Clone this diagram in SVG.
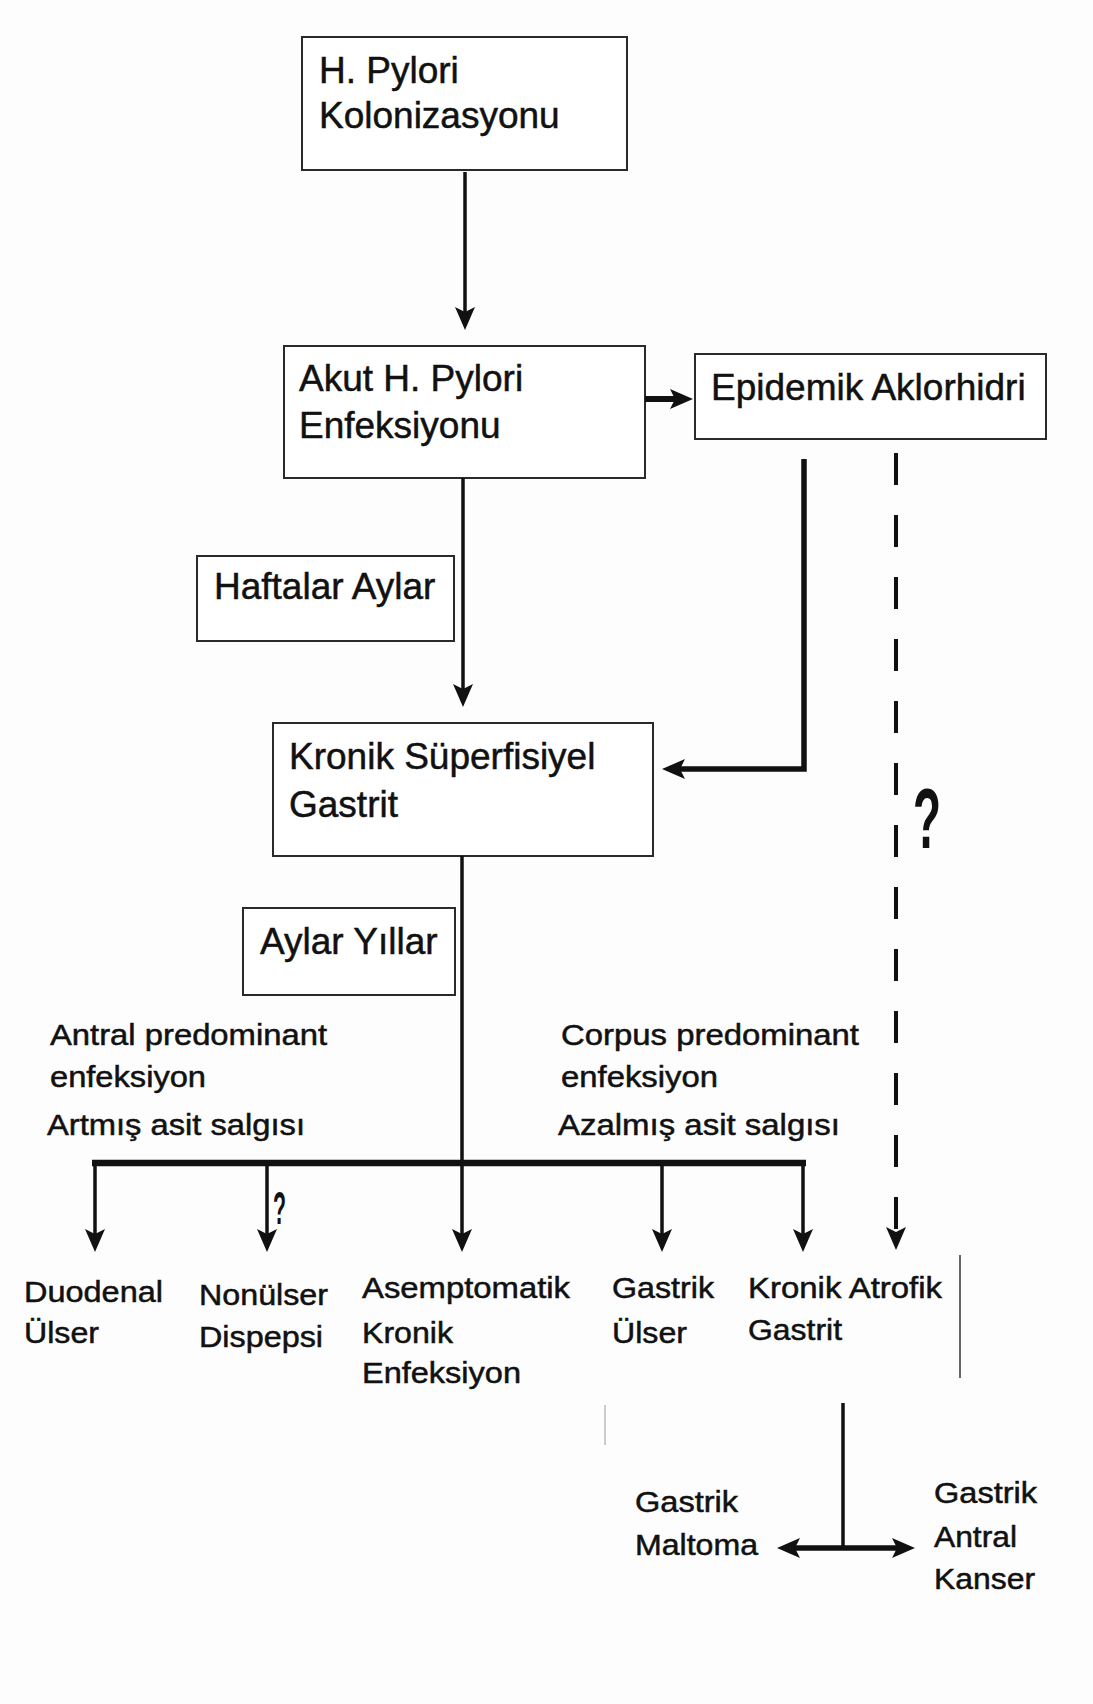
<svg xmlns="http://www.w3.org/2000/svg" width="1093" height="1704" viewBox="0 0 1093 1704">
<style>
.box{fill:#fff;stroke:#2a2a2a;stroke-width:2}
.t{font-family:"Liberation Sans",Arial,sans-serif;font-size:37px;fill:#111;stroke:#111;stroke-width:0.5}
.s{font-family:"Liberation Sans",Arial,sans-serif;font-size:29px;fill:#111;stroke:#111;stroke-width:0.5}
.q{font-family:"Liberation Sans",Arial,sans-serif;font-weight:bold;fill:#111}
.c{fill:none;stroke:#111;stroke-linecap:butt;stroke-linejoin:miter}
</style>
<defs>
<marker id="ah" markerUnits="userSpaceOnUse" markerWidth="24" markerHeight="22" refX="5" refY="10" orient="auto-start-reverse" viewBox="0 0 24 20">
<path d="M0,0 L23,10 L0,20 L5,10 z" fill="#111"/>
</marker>
</defs>
<rect x="0" y="0" width="1093" height="1704" fill="#fdfdfd"/>

<g id="n-hpylori">
<rect class="box" x="302" y="37" width="325" height="133"/>
<text class="t" x="319" y="83">H. Pylori</text>
<text class="t" x="319" y="128">Kolonizasyonu</text>
</g>
<g id="n-akut">
<rect class="box" x="284" y="346" width="361" height="132"/>
<text class="t" x="299" y="391">Akut H. Pylori</text>
<text class="t" x="299" y="438">Enfeksiyonu</text>
</g>
<g id="n-epidemik">
<rect class="box" x="695" y="354" width="351" height="85"/>
<text class="t" x="711" y="400">Epidemik Aklorhidri</text>
</g>
<g id="n-haftalar">
<rect class="box" x="197" y="556" width="257" height="85"/>
<text class="t" x="214" y="599">Haftalar Aylar</text>
</g>
<g id="n-kronik">
<rect class="box" x="273" y="723" width="380" height="133"/>
<text class="t" x="289" y="769">Kronik Süperfisiyel</text>
<text class="t" x="289" y="817">Gastrit</text>
</g>
<g id="n-aylar">
<rect class="box" x="243" y="908" width="212" height="87"/>
<text class="t" x="260" y="954">Aylar Yıllar</text>
</g>

<g id="n-antral">
<text class="s" x="50" y="1045" textLength="277" lengthAdjust="spacingAndGlyphs">Antral predominant</text>
<text class="s" x="50" y="1087" textLength="156" lengthAdjust="spacingAndGlyphs">enfeksiyon</text>
<text class="s" x="47" y="1135" textLength="258" lengthAdjust="spacingAndGlyphs">Artmış asit salgısı</text>
</g>
<g id="n-corpus">
<text class="s" x="561" y="1045" textLength="298" lengthAdjust="spacingAndGlyphs">Corpus predominant</text>
<text class="s" x="561" y="1087" textLength="157" lengthAdjust="spacingAndGlyphs">enfeksiyon</text>
<text class="s" x="558" y="1135" textLength="282" lengthAdjust="spacingAndGlyphs">Azalmış asit salgısı</text>
</g>

<g id="n-duodenal">
<text class="s" x="24" y="1302" textLength="139" lengthAdjust="spacingAndGlyphs">Duodenal</text>
<text class="s" x="24" y="1343" textLength="75" lengthAdjust="spacingAndGlyphs">Ülser</text>
</g>
<g id="n-nonulser">
<text class="s" x="199" y="1305" textLength="129" lengthAdjust="spacingAndGlyphs">Nonülser</text>
<text class="s" x="199" y="1347" textLength="124" lengthAdjust="spacingAndGlyphs">Dispepsi</text>
</g>
<g id="n-asemptomatik">
<text class="s" x="362" y="1298" textLength="208" lengthAdjust="spacingAndGlyphs">Asemptomatik</text>
<text class="s" x="362" y="1343" textLength="91" lengthAdjust="spacingAndGlyphs">Kronik</text>
<text class="s" x="362" y="1383" textLength="159" lengthAdjust="spacingAndGlyphs">Enfeksiyon</text>
</g>
<g id="n-gastrikulser">
<text class="s" x="612" y="1298" textLength="102" lengthAdjust="spacingAndGlyphs">Gastrik</text>
<text class="s" x="612" y="1343" textLength="75" lengthAdjust="spacingAndGlyphs">Ülser</text>
</g>
<g id="n-atrofik">
<text class="s" x="748" y="1298" textLength="194" lengthAdjust="spacingAndGlyphs">Kronik Atrofik</text>
<text class="s" x="748" y="1340" textLength="94" lengthAdjust="spacingAndGlyphs">Gastrit</text>
</g>
<g id="n-maltoma">
<text class="s" x="635" y="1512" textLength="103" lengthAdjust="spacingAndGlyphs">Gastrik</text>
<text class="s" x="635" y="1555" textLength="123" lengthAdjust="spacingAndGlyphs">Maltoma</text>
</g>
<g id="n-kanser">
<text class="s" x="934" y="1503" textLength="103" lengthAdjust="spacingAndGlyphs">Gastrik</text>
<text class="s" x="934" y="1547" textLength="83" lengthAdjust="spacingAndGlyphs">Antral</text>
<text class="s" x="934" y="1589" textLength="101" lengthAdjust="spacingAndGlyphs">Kanser</text>
</g>

<g id="edges">
<line class="c" x1="465" y1="172" x2="465" y2="312" stroke-width="3.5" marker-end="url(#ah)"/>
<line class="c" x1="645" y1="399" x2="675" y2="399" stroke-width="6" marker-end="url(#ah)"/>
<line class="c" x1="463" y1="478" x2="463" y2="689" stroke-width="3.5" marker-end="url(#ah)"/>
<path class="c" d="M804,459 V769 H680" stroke-width="5.5" marker-end="url(#ah)"/>
<line class="c" x1="896" y1="453" x2="896" y2="1232" stroke-width="4" stroke-dasharray="32 30" marker-end="url(#ah)"/>
<line class="c" x1="462" y1="856" x2="462" y2="1234" stroke-width="3.5" marker-end="url(#ah)"/>
<line class="c" x1="92" y1="1163" x2="806" y2="1163" stroke-width="6.5"/>
<line class="c" x1="95" y1="1163" x2="95" y2="1234" stroke-width="3.5" marker-end="url(#ah)"/>
<line class="c" x1="267" y1="1163" x2="267" y2="1234" stroke-width="3.5" marker-end="url(#ah)"/>
<line class="c" x1="662" y1="1163" x2="662" y2="1234" stroke-width="3.5" marker-end="url(#ah)"/>
<line class="c" x1="803" y1="1163" x2="803" y2="1234" stroke-width="3.5" marker-end="url(#ah)"/>
<line class="c" x1="843" y1="1403" x2="843" y2="1548" stroke-width="3.5"/>
<line class="c" x1="795" y1="1548" x2="897" y2="1548" stroke-width="5.5" marker-start="url(#ah)" marker-end="url(#ah)"/>
<text class="q" x="913" y="848" font-size="86" textLength="28" lengthAdjust="spacingAndGlyphs">?</text>
<text class="q" x="273" y="1224" font-size="46" textLength="13" lengthAdjust="spacingAndGlyphs">?</text>
<line x1="960" y1="1255" x2="960" y2="1378" stroke="#333" stroke-width="1.5"/>
<line x1="605" y1="1405" x2="605" y2="1445" stroke="#bbb" stroke-width="1.5"/>
</g>
</svg>
